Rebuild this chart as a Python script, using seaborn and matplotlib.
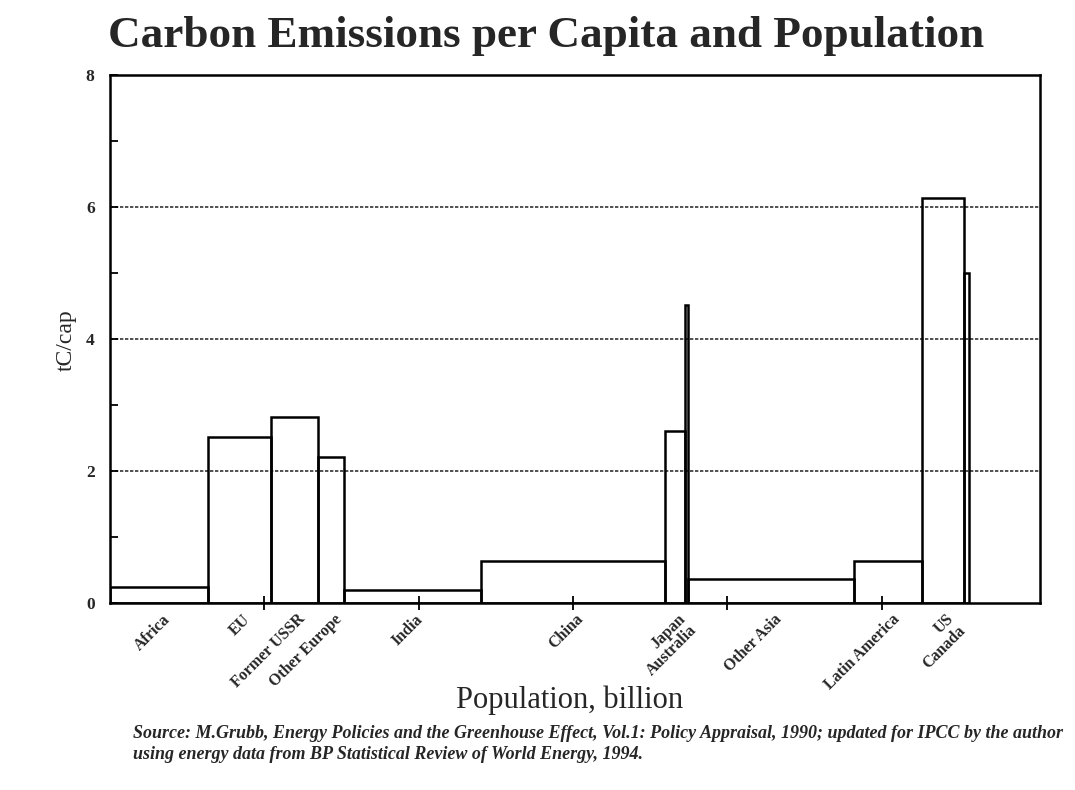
import numpy as np
import pandas as pd
import matplotlib
matplotlib.use("Agg")
import matplotlib.pyplot as plt
import seaborn as sns

# ---- data ----
regions = ["Africa", "EU", "Former USSR", "Other Europe", "India", "China",
           "Japan", "Australia", "Other Asia", "Latin America", "US", "Canada"]
population_bn = [0.635, 0.41, 0.30, 0.17, 0.89, 1.19,
                 0.13, 0.02, 1.08, 0.44, 0.27, 0.03]
tc_per_cap = [0.24, 2.52, 2.82, 2.21, 0.20, 0.63,
              2.60, 4.52, 0.37, 0.64, 6.14, 5.00]
tick_labels = ["Africa", "EU", "Former USSR", "Other Europe", "India", "China",
               "Japan\nAustralia", "", "Other Asia", "Latin America", "US\nCanada", ""]
y_ticks = [0, 2, 4, 6, 8]
x_ticks = [1, 2, 3, 4, 5]

title = "Carbon Emissions per Capita and Population"
y_label = "tC/cap"
x_label = "Population, billion"
source = ("Source: M.Grubb, Energy Policies and the Greenhouse Effect, Vol.1: Policy Appraisal, 1990; "
          "updated for IPCC by the author\nusing energy data from BP Statistical Review of World Energy, 1994.")

# ---- derived table ----
edges = np.concatenate([[0.0], np.cumsum(population_bn)])
df = pd.DataFrame({
    "region": regions,
    "center": (edges[:-1] + edges[1:]) / 2,
    "tc": tc_per_cap,
    "label": tick_labels,
})

sns.set_theme(style="white")
plt.rcParams["font.family"] = ["Liberation Serif", "DejaVu Serif"]

W, H = 1075, 790
fig = plt.figure(figsize=(W / 100, H / 100), dpi=100)
ax = fig.add_axes([110 / W, 1 - 603 / H, (1040 - 110) / W, (603 - 75) / H])

sns.histplot(data=df, x="center", weights="tc", bins=[float(e) for e in edges],
             stat="count", fill=False, element="bars", color="black",
             linewidth=1.8, ax=ax)

ax.set_xlim(0, (1040 - 110) / 154.3)
ax.set_ylim(0, 8)

# gridlines
for y in [2, 4, 6]:
    ax.axhline(y, color="#333333", linestyle=(0, (2, 1)), linewidth=1.2, zorder=0)

for s in ax.spines.values():
    s.set_color("black")
    s.set_linewidth(1.8)

ax.set_yticks(y_ticks)
ax.set_yticklabels([str(t) for t in y_ticks], fontsize=12.5, fontweight="bold")
ax.set_yticks([1, 3, 5, 7], minor=True)
ax.tick_params(axis="y", which="both", direction="in", left=True, length=6,
               width=1.3, color="black", pad=11)
ax.set_xticks(x_ticks)
ax.set_xticklabels([])
ax.tick_params(axis="x", which="major", direction="inout", bottom=True, length=10,
               width=1.3, color="black")
ax.set_xlabel("")
ax.set_ylabel("")

for _, r in df.iterrows():
    if r["label"]:
        ax.annotate(r["label"], xy=(r["center"], 0), xycoords=("data", "axes fraction"),
                    xytext=(2, -6), textcoords="offset points", rotation=45,
                    rotation_mode="anchor", ha="right", va="top",
                    fontsize=11.5, fontweight="bold", multialignment="right",
                    linespacing=1.0)

fig.text(108 / W, 1 - 16 / H, title, fontsize=32.5, fontweight="bold", ha="left", va="top")
fig.text(66 / W, 1 - 340 / H, y_label, fontsize=17, rotation=90, ha="center", va="center")
fig.text(570 / W, 1 - 700 / H, x_label, fontsize=22, ha="center", va="center")
fig.text(133 / W, 1 - 725 / H, source, fontsize=13, fontstyle="italic", fontweight="bold",
         ha="left", va="top", linespacing=1.3)

fig.savefig("out.png", dpi=100, facecolor="white")
